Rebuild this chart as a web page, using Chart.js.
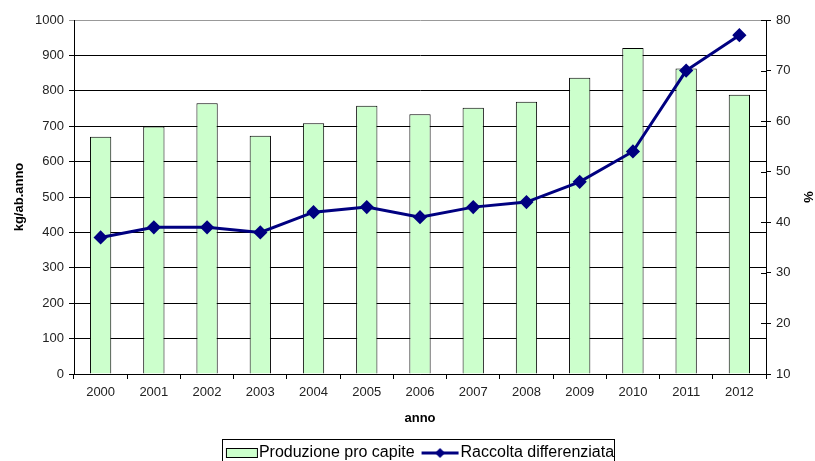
<!DOCTYPE html>
<html>
<head>
<meta charset="utf-8">
<script src="https://cdn.jsdelivr.net/npm/chart.js@4.4.1/dist/chart.umd.min.js"></script>
<style>
  html, body { margin: 0; padding: 0; background: #fff; overflow: hidden; }
  #wrap { width: 815px; height: 461px; }
</style>
</head>
<body>
<div id="wrap"><canvas id="myChart" width="815" height="461"></canvas></div>
<script>
// data
const years = ['2000', '2001', '2002', '2003', '2004', '2005', '2006', '2007', '2008', '2009', '2010', '2011', '2012']
const produzioneProCapite = [670, 699, 765, 673, 708, 758, 734, 752, 769, 837, 921, 863, 789]
const raccoltaDifferenziata = [37, 39, 39, 38, 42, 43, 41, 43, 44, 48, 54, 70, 77]
const leftTicks = [0, 100, 200, 300, 400, 500, 600, 700, 800, 900, 1000]
const rightTicks = [10, 20, 30, 40, 50, 60, 70, 80]

const FONT = "'Liberation Sans', Arial, sans-serif"
const navy = '#000080'
const green = '#CCFFCC'

// legend symbols (canvas is wider than the legend box so the symbol sits close to the text)
function barSymbol() {
    const c = document.createElement('canvas')
    c.width = 58; c.height = 12
    const g = c.getContext('2d')
    g.fillStyle = green
    g.fillRect(21.5, 1.5, 31, 9)
    g.strokeStyle = '#000'
    g.lineWidth = 1
    g.strokeRect(21.5, 1.5, 31, 9)
    return c
}
function lineSymbol() {
    const c = document.createElement('canvas')
    c.width = 58; c.height = 14
    const g = c.getContext('2d')
    g.strokeStyle = navy
    g.lineWidth = 3
    g.beginPath(); g.moveTo(15, 7); g.lineTo(52, 7); g.stroke()
    g.fillStyle = navy
    g.beginPath()
    g.moveTo(33.5, 2); g.lineTo(38.5, 7); g.lineTo(33.5, 12); g.lineTo(28.5, 7)
    g.closePath(); g.fill()
    return c
}

const legendFrame = {
    id: 'legendFrame',
    afterLayout(chart) {
        // legend sits a bit right of center and lower in the original
        chart.legend.left += 16
        chart.legend.top += 10
    },
    afterDraw(chart) {
        const ctx = chart.ctx
        ctx.save()
        ctx.strokeStyle = '#000'
        ctx.lineWidth = 1
        ctx.strokeRect(222.5, 439.5, 392, 26)
        // right axis ticks cross the axis line
        const y1 = chart.scales.y1
        ctx.beginPath()
        rightTicks.forEach(v => {
            const py = Math.round(y1.getPixelForValue(v)) + 0.5
            ctx.moveTo(y1.left - 5, py)
            ctx.lineTo(y1.left, py)
        })
        ctx.stroke()
        ctx.restore()
    }
}

const ctx = document.getElementById('myChart').getContext('2d')
const myChart = new Chart(ctx, {
    type: 'bar',
    data: {
        labels: years,
        datasets: [{
            type: 'bar',
            label: 'Produzione pro capite',
            data: produzioneProCapite,
            backgroundColor: green,
            borderColor: '#000',
            borderWidth: 1,
            barPercentage: 0.8,
            categoryPercentage: 0.5,
            yAxisID: 'y',
            order: 2
        }, {
            type: 'line',
            label: 'Raccolta differenziata',
            data: raccoltaDifferenziata,
            borderColor: navy,
            backgroundColor: navy,
            borderWidth: 3,
            tension: 0,
            pointStyle: 'rectRot',
            pointRadius: 5,
            pointBackgroundColor: navy,
            pointBorderColor: navy,
            yAxisID: 'y1',
            order: 1
        }]
    },
    options: {
        responsive: false,
        animation: false,
        layout: { padding: { top: 20, left: 0, right: 0, bottom: 0 } },
        plugins: {
            tooltip: { enabled: false },
            legend: {
                position: 'bottom',
                labels: {
                    usePointStyle: true,
                    pointStyleWidth: 34,
                    boxHeight: 14,
                    padding: 4,
                    color: '#000',
                    font: { family: FONT, size: 16 },
                    generateLabels(chart) {
                        return [
                            { text: 'Produzione pro capite', pointStyle: barSymbol(), datasetIndex: 0, fillStyle: 'transparent', strokeStyle: 'transparent', lineWidth: 0, hidden: false, fontColor: '#000' },
                            { text: 'Raccolta differenziata', pointStyle: lineSymbol(), datasetIndex: 1, fillStyle: 'transparent', strokeStyle: 'transparent', lineWidth: 0, hidden: false, fontColor: '#000' }
                        ]
                    }
                }
            }
        },
        scales: {
            x: {
                grid: { drawOnChartArea: false, offset: true, tickLength: 5, color: '#000' },
                border: { color: '#000', width: 1 },
                ticks: { color: '#222', font: { family: FONT, size: 13 }, padding: 6, maxRotation: 0 },
                title: { display: true, text: 'anno', color: '#000', font: { family: FONT, size: 13, weight: 'bold' }, padding: { top: 6, bottom: 5 } },
                afterFit(scale) { scale.height = 57 }
            },
            y: {
                position: 'left',
                min: 0,
                max: 1000,
                afterBuildTicks(scale) { scale.ticks = leftTicks.map(v => ({ value: v })) },
                grid: {
                    tickLength: 5,
                    color: c => (c.tick && c.tick.value === 1000) ? '#999' : '#000'
                },
                border: { color: '#000', width: 1 },
                ticks: { color: '#222', font: { family: FONT, size: 13 }, padding: 5, callback: v => String(v) },
                title: { display: true, text: 'kg/ab.anno', color: '#000', font: { family: FONT, size: 13, weight: 'bold' }, padding: { top: 12, bottom: 0 } },
                afterFit(scale) { scale.width = 74 }
            },
            y1: {
                position: 'right',
                min: 10,
                max: 80,
                afterBuildTicks(scale) { scale.ticks = rightTicks.map(v => ({ value: v })) },
                grid: { drawOnChartArea: false, tickLength: 5, color: '#000' },
                border: { color: '#000', width: 1 },
                ticks: { color: '#222', font: { family: FONT, size: 13 }, padding: 5, callback: v => String(v) },
                title: { display: true, text: '%', color: '#000', font: { family: FONT, size: 13, weight: 'bold' }, padding: { top: 0, bottom: 0 } },
                afterFit(scale) { scale.width = 49 }
            }
        }
    },
    plugins: [legendFrame]
})
</script>
</body>
</html>
